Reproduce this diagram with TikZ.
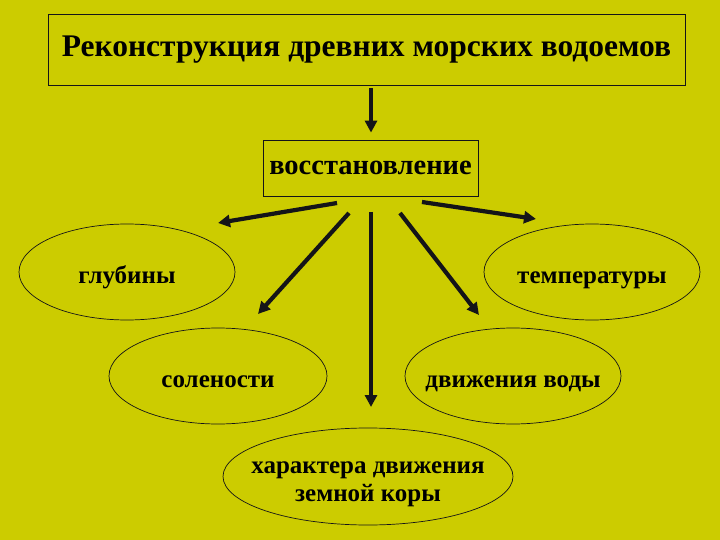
\documentclass[tikz,border=0pt]{standalone}
\usepackage{fontspec}
\setmainfont{Liberation Serif}
\usetikzlibrary{arrows.meta, positioning, shapes.geometric}
\definecolor{slideolive}{HTML}{CCCC00}
\definecolor{slideink}{HTML}{141418}

\begin{document}
\begin{tikzpicture}[x=1pt,y=-1pt,font=\bfseries,
    titlebox/.style={draw=slideink,line width=0.8pt,minimum width=637pt,minimum height=71pt,inner sep=0pt},
    mainbox/.style={draw=slideink,line width=0.8pt,minimum width=215pt,minimum height=56pt,inner sep=0pt},
    oval/.style={ellipse,draw=slideink,line width=0.7pt,minimum width=216pt,minimum height=96pt,inner ysep=0pt,inner xsep=-20pt,
      text height=26pt,text depth=4pt,font=\fontsize{25}{28}\bfseries},
    ovaltext/.style={align=center,font=\fontsize{25}{28}\bfseries},
    ray/.style={-{Triangle[length=12pt,width=12pt]},line width=4.2pt,slideink}]
    \fill[slideolive] (0,0) rectangle (720,540);
    \useasboundingbox (0,0) rectangle (720,540);
    \node[titlebox,font=\fontsize{31.5}{34}\bfseries] (title) at (366.5,49.5) {Реконструкция древних морских водоемов};
    \node[mainbox,font=\fontsize{28.5}{30}\bfseries] (rec) at (370.5,168) {восстановление};
    \node[oval] (depth) at (127,272) {глубины};
    \node[oval] (temp) at (592,272) {температуры};
    \node[oval,minimum width=218pt] (salt) at (218,376) {солености};
    \node[oval] (flow) at (513,376) {движения воды};
    \node[oval,minimum width=290pt,minimum height=97pt] (crust) at (368,476.5) {};
    \node[ovaltext] (crusttext) at (368,484) {характера движения\\земной коры};
    % free ends of the rays
    \coordinate (dA) at (337,203);  \coordinate (dB) at (218,223);
    \coordinate (sA) at (349,213);  \coordinate (sB) at (258,314);
    \coordinate (tA) at (422,202);  \coordinate (tB) at (536,219);
    \coordinate (fA) at (400,213);  \coordinate (fB) at (479,315);
    \coordinate (cA) at (371,212);  \coordinate (cB) at (371,407);
    \draw[ray,shorten <=3pt,shorten >=7pt] (title.south -| cA) -- (rec.north -| cA);
    \draw[ray] (dA) -- (dB);
    \draw[ray] (sA) -- (sB);
    \draw[ray] (tA) -- (tB);
    \draw[ray] (fA) -- (fB);
    \draw[ray] (cA) -- (cB);
\end{tikzpicture}
\end{document}
